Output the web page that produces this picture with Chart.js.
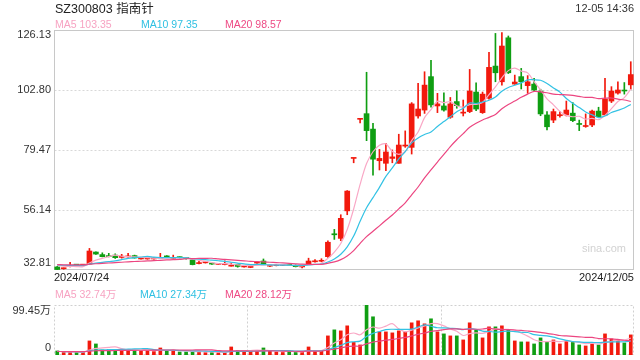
<!DOCTYPE html>
<html><head><meta charset="utf-8">
<script src="https://cdn.jsdelivr.net/npm/chart.js@4.4.1/dist/chart.umd.min.js"></script>
<style>
body{margin:0;width:640px;height:360px;background:#fff;position:relative;overflow:hidden;font-family:"Liberation Sans",Arial,"Noto Sans CJK SC",sans-serif;}
canvas{position:absolute;left:0;top:0;}
.t{position:absolute;white-space:nowrap;line-height:1;}
</style></head><body>
<canvas id="c1" width="640" height="360"></canvas>
<canvas id="c2" width="640" height="360"></canvas>
<div class="t" style="left:55px;top:2px;font-size:12.5px;color:#222">SZ300803 <span style="font-family:'Noto Sans CJK SC'">指南针</span></div>
<div class="t" style="right:6px;top:3px;font-size:11px;color:#333">12-05 14:36</div>
<div class="t" style="left:55px;top:19px;font-size:10.5px;color:#f7a3c2">MA5 103.35</div>
<div class="t" style="left:141px;top:19px;font-size:10.5px;color:#2fc0e2">MA10 97.35</div>
<div class="t" style="left:225px;top:19px;font-size:10.5px;color:#ee4a84">MA20 98.57</div>
<div class="t" id="d0" style="left:54px;top:272px;font-size:11px;color:#222"></div>
<div class="t" id="d1" style="right:6px;top:272px;font-size:11px;color:#222"></div>
<div class="t" style="left:55px;top:289px;font-size:10.5px;color:#f7a3c2">MA5 32.74万</div>
<div class="t" style="left:140px;top:289px;font-size:10.5px;color:#2fc0e2">MA10 27.34万</div>
<div class="t" style="left:225px;top:289px;font-size:10.5px;color:#ee4a84">MA20 28.12万</div>
<div class="t" style="left:582px;top:243px;font-size:11px;color:#d2d2d2">sina.com</div>
<script>
const categories = ["2024/07/24","2024/07/25","2024/07/26","2024/07/29","2024/07/30","2024/07/31",
"2024/08/01","2024/08/02","2024/08/05","2024/08/06","2024/08/07","2024/08/08","2024/08/09","2024/08/12","2024/08/13","2024/08/14","2024/08/15","2024/08/16","2024/08/19","2024/08/20","2024/08/21","2024/08/22","2024/08/23","2024/08/26","2024/08/27","2024/08/28","2024/08/29","2024/08/30",
"2024/09/02","2024/09/03","2024/09/04","2024/09/05","2024/09/06","2024/09/09","2024/09/10","2024/09/11","2024/09/12","2024/09/13","2024/09/18","2024/09/19","2024/09/20","2024/09/23","2024/09/24","2024/09/25","2024/09/26","2024/09/27","2024/09/30",
"2024/10/08","2024/10/09","2024/10/10","2024/10/11","2024/10/14","2024/10/15","2024/10/16","2024/10/17","2024/10/18","2024/10/21","2024/10/22","2024/10/23","2024/10/24","2024/10/25","2024/10/28","2024/10/29","2024/10/30","2024/10/31",
"2024/11/01","2024/11/04","2024/11/05","2024/11/06","2024/11/07","2024/11/08","2024/11/11","2024/11/12","2024/11/13","2024/11/14","2024/11/15","2024/11/18","2024/11/19","2024/11/20","2024/11/21","2024/11/22","2024/11/25","2024/11/26","2024/11/27","2024/11/28","2024/11/29",
"2024/12/02","2024/12/03","2024/12/04","2024/12/05"];

const openP = [34.0,33.3,34.1,34.8,34.7,35.1,39.8,38.8,38.4,38.6, 37.7,37.9,38.4,37.1,37.1,37.1,37.3,38.3,37.3,37.8, 37.5,36.7,35.3,35.6,35.4,35.0,34.9,34.3,35.0,34.0, 33.8,35.5,36.3,34.3,34.5,34.6,34.8,34.6,34.0,35.1, 36.0,36.2,38.0,46.9,45.1,55.8,76.2,91.4,93.6,87.6, 75.3,74.3,76.2,74.3,81.0,80.5,92.7,95.0,108.0,96.6, 96.6,92.2,98.3,93.8,94.4,102.0,94.0,99.6,112.1,106.0, 123.1,105.1,108.0,104.5,105.1,102.4,93.1,91.1,92.8,93.1, 93.8,89.7,88.6,89.2,94.6,93.1,98.5,101.6,102.7,104.8];
const highP = [34.2,33.6,35.8,34.9,34.9,41.2,39.9,39.5,39.3,39.1, 38.9,39.3,38.6,37.4,37.5,37.6,39.3,38.4,38.6,37.9, 37.6,36.8,36.2,35.9,35.6,35.3,36.4,35.5,35.1,34.5, 34.8,35.9,37.1,34.6,35.0,34.8,34.9,34.8,34.5,37.4, 36.9,37.2,44.2,48.6,54.3,63.7,76.2,91.4,109.7,89.8, 79.7,82.1,79.5,85.6,86.9,97.9,105.4,109.9,114.3,101.5, 101.7,99.9,102.5,98.9,110.8,105.6,102.0,117.4,124.8,125.1, 123.8,108.6,111.2,108.4,107.3,103.1,94.4,95.4,94.4,98.5, 97.9,91.1,93.5,95.0,96.1,107.3,104.1,106.0,105.7,113.8];
const lowP = [32.81,33.1,34.0,34.6,34.6,35.0,38.9,37.9,37.9,37.3, 37.4,37.8,37.4,37.0,37.0,37.0,37.2,37.8,37.2,37.5, 37.0,34.8,35.2,35.5,35.0,34.9,34.8,34.3,33.9,33.9, 33.7,35.4,34.9,34.1,34.4,34.5,34.5,34.0,33.6,35.0, 35.9,36.0,37.7,44.7,44.2,54.3,74.5,90.0,83.1,69.7, 71.7,71.4,74.5,74.3,80.5,77.9,91.8,93.7,96.1,94.0, 94.6,91.8,95.7,92.7,94.0,94.8,93.7,99.2,106.0,104.7, 109.2,105.0,103.2,101.5,102.4,92.8,87.3,90.1,92.2,92.7, 90.5,87.0,88.3,88.5,92.2,92.8,97.9,101.2,101.2,103.1];
const closeP = [33.0,33.5,34.6,34.7,34.8,40.2,39.0,38.0,38.0,37.6, 38.2,38.1,37.5,37.2,37.3,37.2,37.5,37.9,37.5,37.6, 37.3,34.9,35.4,35.8,35.1,35.1,35.1,34.5,34.2,34.2, 34.5,35.7,35.0,34.5,34.6,34.7,34.6,34.1,34.2,36.3, 36.2,36.4,43.6,46.5,52.9,63.5,76.2,91.4,87.0,75.9, 76.2,78.7,76.8,81.4,81.4,97.4,95.4,104.7,97.0,97.4, 95.0,97.4,96.7,94.2,102.4,95.4,101.2,111.6,109.5,119.9, 109.5,105.9,106.0,106.0,102.8,93.5,88.5,94.4,93.2,95.0, 90.9,89.4,89.0,94.6,92.4,99.3,102.4,102.8,102.4,108.8];

const ma5 = [34.60,34.30,34.22,34.16,34.12,35.56,36.66,37.34,38.00,38.56, 38.16,37.98,37.88,37.72,37.66,37.46,37.34,37.42,37.48,37.54, 37.56,37.04,36.54,36.20,35.70,35.26,35.30,35.12,34.80,34.62, 34.50,34.62,34.72,34.78,34.86,34.90,34.68,34.50,34.44,34.78, 35.08,35.44,37.34,39.80,43.12,48.58,56.54,66.10,74.20,78.80, 81.34,81.84,78.92,77.80,78.90,83.14,86.48,92.06,95.18,98.38, 97.90,98.30,96.70,96.14,97.14,97.22,97.98,100.96,104.02,107.52, 110.34,111.28,110.16,109.46,106.04,102.84,99.36,97.04,94.48,92.92, 92.40,92.58,91.50,91.78,91.26,92.94,95.54,98.30,99.86,103.14];
const ma10 = [34.80,34.65,34.61,34.58,34.56,35.08,35.48,35.78,36.08,36.34, 36.86,37.32,37.61,37.86,38.11,37.81,37.66,37.65,37.60,37.60, 37.51,37.19,36.98,36.84,36.62,36.41,36.17,35.83,35.50,35.16, 34.88,34.96,34.92,34.79,34.74,34.70,34.65,34.61,34.61,34.82, 34.99,35.06,35.92,37.12,38.95,41.83,45.99,51.72,57.00,60.96, 64.96,69.19,72.51,76.00,78.85,82.24,84.16,85.49,86.49,88.64, 90.52,92.39,94.38,95.66,97.76,97.56,98.14,98.83,100.08,102.33, 103.78,104.63,105.56,106.74,106.78,106.59,105.32,103.60,101.97,99.48, 97.62,95.97,94.27,93.13,92.09,92.67,94.06,94.90,95.82,97.20];
const ma20 = [34.90,34.83,34.81,34.79,34.78,35.04,35.24,35.39,35.54,35.67, 35.83,35.99,36.11,36.22,36.34,36.45,36.57,36.72,36.84,36.97, 37.19,37.26,37.30,37.35,37.37,37.11,36.92,36.74,36.55,36.38, 36.20,36.08,35.95,35.82,35.68,35.56,35.41,35.22,35.06,34.99, 34.94,35.01,35.42,35.96,36.85,38.27,40.32,43.17,45.81,47.89, 49.98,52.13,54.22,56.56,58.90,62.04,65.08,68.61,71.75,74.80, 77.74,80.79,83.45,85.83,88.31,89.90,91.15,92.16,93.29,95.49, 97.15,98.51,99.97,101.20,102.27,102.08,101.73,101.22,101.03,100.91, 100.70,100.30,99.92,99.94,99.44,99.63,99.69,99.25,98.90,98.34];

const volume = [8,5,5,5,5,28,22,10,11,10, 10,10,9,9,9,7,14,8,8,6, 6,7,7,5,5,5,5,16,9,7, 8,8,14,8,6,5,7,7,6,16, 7,8,38,50,48,58,25,20,99.45,76, 46,46,44,48,46,64,68,62,72,46, 42,38,38,30,64,50,34,56,56,58, 50,28,26,26,22,34,26,30,22,28, 26,20,18,24,20,42,32,30,24,40];
const vma5 = [7.2,6.8,6.4,6.0,5.6,9.6,13.0,14.0,15.2,16.2, 12.6,10.2,10.0,9.6,9.4,8.8,9.6,9.4,9.2,8.6, 8.4,7.0,6.8,6.2,6.0,5.8,5.4,7.2,8.0,8.4, 9.0,9.6,9.2,9.0,8.8,8.2,8.0,6.6,6.2,8.2, 8.6,8.8,15.0,23.8,30.2,40.4,43.8,40.2,50.09,55.69, 53.29,57.49,62.29,52.0,46.0,49.6,54.0,57.6,62.4,62.4, 58.0,52.0,47.2,38.8,42.4,44.0,43.2,46.8,52.0,50.8, 50.8,49.6,43.6,37.6,30.4,27.2,26.8,27.6,26.8,28.0, 26.4,25.2,22.8,23.2,21.6,24.8,27.2,29.6,29.6,33.6];
const vma10 = [7.1,6.9,6.7,6.5,6.3,8.4,9.9,10.2,10.6,10.9, 11.1,11.6,12.0,12.4,12.8,10.7,9.9,9.7,9.4,9.0, 8.6,8.3,8.1,7.7,7.3,7.1,6.2,7.0,7.1,7.2, 7.4,7.5,8.2,8.5,8.6,8.6,8.8,7.9,7.6,8.5, 8.4,8.4,10.8,15.0,19.2,24.5,26.3,27.6,36.9,42.9, 46.8,50.6,51.2,51.0,50.8,51.4,55.7,59.9,57.2,54.2, 53.8,53.0,52.4,50.6,52.4,51.0,47.6,47.0,45.4,46.6, 47.4,46.4,45.2,44.8,40.6,39.0,38.2,35.6,32.2,29.2, 26.8,26.0,25.2,25.0,24.8,25.6,26.2,26.2,26.4,27.6];
const vma20 = [7.05,6.95,6.85,6.75,6.65,7.7,8.45,8.6,8.8,8.95, 9.1,9.25,9.35,9.45,9.55,9.55,9.9,9.95,10.0,9.95, 9.85,9.95,10.05,10.05,10.05,8.9,8.05,8.35,8.25,8.1, 8.0,7.9,8.15,8.1,7.95,7.85,7.5,7.45,7.35,7.85, 7.9,7.95,9.5,11.75,13.9,16.55,17.55,17.75,22.27,25.72, 27.62,29.52,31.02,33.02,35.02,37.97,41.02,43.77,47.07,48.57, 50.32,51.82,51.82,50.82,51.62,51.22,51.67,53.47,51.3,50.4, 50.6,49.7,48.8,47.7,46.5,45.0,42.9,41.3,38.8,37.9, 37.1,36.2,35.2,34.9,32.7,32.3,32.2,30.9,29.3,28.4];

const priceTicks = [126.13, 102.80, 79.47, 56.14, 32.81];
const volTicks = [99.45, 0];
const volTickLabels = ["99.45万", "0"];

const RED = '#f2190d', GREEN = '#0f9e12';
const C5 = '#f9a8c6', C10 = '#33c2e4', C20 = '#ec4681';
const upColors = closeP.map((c, i) => c >= openP[i] ? RED : GREEN);

document.getElementById('d0').textContent = categories[0];
document.getElementById('d1').textContent = categories[categories.length - 1];

const frame = {
  id: 'frame',
  beforeDatasetsDraw(chart, args, o) {
    const {ctx, chartArea: a} = chart; const y = chart.scales.y;
    const L = Math.round(a.left) + 0.5, R = Math.round(a.right) - 0.5, T = Math.round(a.top) + 0.5, B = Math.round(a.bottom) - 0.5;
    ctx.save(); ctx.lineWidth = 1;
    ctx.strokeStyle = o.gridColor; ctx.setLineDash([2, 2]);
    (o.grid || []).forEach(v => { const p = Math.round(y.getPixelForValue(v)) + 0.5; ctx.beginPath(); ctx.moveTo(L, p); ctx.lineTo(R, p); ctx.stroke(); });
    (o.vlines || []).forEach(f => { const p = Math.round(a.left + a.width * f) + 0.5; ctx.beginPath(); ctx.moveTo(p, T); ctx.lineTo(p, B); ctx.stroke(); });
    ctx.setLineDash(o.borderDash); ctx.strokeStyle = o.borderColor;
    ctx.strokeRect(L, T, R - L, B - T);
    ctx.setLineDash([]);
    ctx.fillStyle = '#333'; ctx.font = '11px "Liberation Sans", "Noto Sans CJK SC", sans-serif';
    ctx.textAlign = 'right'; ctx.textBaseline = 'middle';
    o.ticks.forEach((v, k) => { let p = y.getPixelForValue(v); p = Math.max(a.top + o.inTop, Math.min(a.bottom - o.inBot, p)); ctx.fillText(o.labels[k], a.left - 3, p); });
    ctx.restore();
  }
};

function lineDs(data, color) {
  return {type: 'line', data, borderColor: color, borderWidth: 1.2, pointRadius: 0, tension: 0.3, fill: false, order: 0};
}

new Chart(document.getElementById('c1'), {
  type: 'bar',
  data: {
    labels: categories,
    datasets: [
      {data: lowP.map((l, i) => [l, highP[i]]), backgroundColor: upColors, barThickness: 1, grouped: false, order: 3, borderWidth: 0},
      {data: openP.map((o, i) => [Math.min(o, closeP[i]), Math.max(o, closeP[i])]), backgroundColor: upColors, barThickness: 5, minBarLength: 1, grouped: false, order: 2, borderWidth: 0},
      lineDs(ma20, C20), lineDs(ma10, C10), lineDs(ma5, C5)
    ]
  },
  options: {
    responsive: false, animation: false, events: [],
    layout: {padding: {left: 54, right: 6, top: 30, bottom: 90}},
    plugins: {legend: {display: false}, tooltip: {enabled: false},
      frame: {grid: [102.80, 79.47, 56.14], gridColor: '#d8d8d8', borderColor: '#c8c8c8', borderDash: [], ticks: priceTicks, labels: priceTicks.map(v => v.toFixed(2)), inTop: 5, inBot: 7}},
    scales: {x: {display: false, offset: true}, y: {display: false, min: 32.81, max: 126.13}}
  },
  plugins: [frame]
});

new Chart(document.getElementById('c2'), {
  type: 'bar',
  data: {
    labels: categories,
    datasets: [
      {data: volume, backgroundColor: upColors, barThickness: 3, order: 2, borderWidth: 0},
      lineDs(vma20, C20), lineDs(vma10, C10), lineDs(vma5, C5)
    ]
  },
  options: {
    responsive: false, animation: false, events: [],
    layout: {padding: {left: 54, right: 6, top: 305, bottom: 5}},
    plugins: {legend: {display: false}, tooltip: {enabled: false},
      frame: {grid: [], vlines: [1/3, 2/3], gridColor: '#d0d0d0', borderColor: '#d0d0d0', borderDash: [2, 2], ticks: volTicks, labels: volTickLabels, inTop: 5.5, inBot: 7}},
    scales: {x: {display: false, offset: true}, y: {display: false, min: 0, max: 99.45}}
  },
  plugins: [frame]
});
</script>
</body></html>
